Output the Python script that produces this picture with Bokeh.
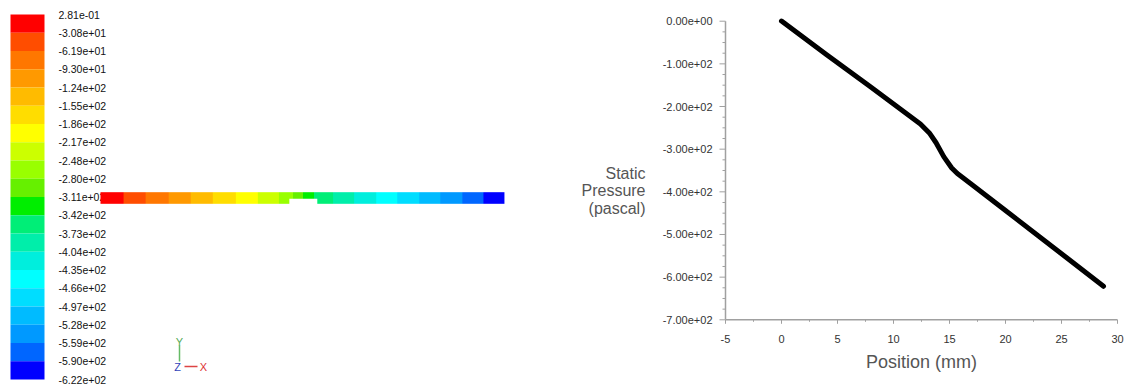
import numpy as np
from bokeh.plotting import figure
from bokeh.models import Range1d, LinearColorMapper
from bokeh.core.properties import value
from bokeh.embed import file_html
from bokeh.resources import INLINE

# Static pressure along the channel centreline
POSITION_MM = [0.0, 4.0, 8.0, 12.4, 13.2, 13.8, 14.5, 15.2, 15.7, 16.9, 20.0, 25.0, 28.75]
PRESSURE_PA = [0.281, -78.0, -155.0, -241.0, -262.0, -285.0, -318.0, -344.0, -357.0,
               -381.0, -444.0, -545.0, -621.56]

# Contour legend range and its labels (top to bottom)
P_MAX = 0.281
P_MIN = -621.56
LEGEND_LABELS = ["2.81e-01", "-3.08e+01", "-6.19e+01", "-9.30e+01", "-1.24e+02",
                 "-1.55e+02", "-1.86e+02", "-2.17e+02", "-2.48e+02", "-2.80e+02",
                 "-3.11e+02", "-3.42e+02", "-3.73e+02", "-4.04e+02", "-4.35e+02",
                 "-4.66e+02", "-4.97e+02", "-5.28e+02", "-5.59e+02", "-5.90e+02",
                 "-6.22e+02"]

# Narrow throat section of the channel (mm)
THROAT_MM = [13.44, 15.43]

# XY plot axes
X_TICKS = [-5, 0, 5, 10, 15, 20, 25, 30]
X_TICK_LABELS = ["-5", "0", "5", "10", "15", "20", "25", "30"]
X_MINOR = [-2.5, 2.5, 7.5, 12.5, 17.5, 22.5, 27.5]
Y_TICKS = [0, -100, -200, -300, -400, -500, -600, -700]
Y_TICK_LABELS = ["0.00e+00", "-1.00e+02", "-2.00e+02", "-3.00e+02",
                 "-4.00e+02", "-5.00e+02", "-6.00e+02", "-7.00e+02"]
Y_MINOR = [v for v in range(-700, 1, 25) if v % 100 != 0]
X_TITLE = "Position (mm)"
Y_TITLE = ["Static", "Pressure", "(pascal)"]

# Banded spectrum, highest pressure first
PALETTE_TOP_DOWN = ["#FF0000", "#FF4D00", "#FF7700", "#FF9900", "#FFBB00",
                    "#FFDD00", "#FFFF00", "#CCFF00", "#99FF00", "#66F000",
                    "#00EE00", "#00EE77", "#00EEAA", "#00EEDD", "#00FFFF",
                    "#00DDFF", "#00BBFF", "#0099FF", "#0066FF", "#0000FF"]

FONT = value("Liberation Sans")
W, H = 1129, 389
AXIS_GREY = "#A0A0A0"

# one canvas; its default ranges are pixel-like layout units (y from the bottom)
p = figure(width=W, height=H, x_range=Range1d(0, W), y_range=Range1d(0, H),
           x_axis_location=None, y_axis_location=None, min_border=0,
           output_backend="svg", toolbar_location=None)
p.grid.visible = False
p.outline_line_color = None

# ---------- scales ----------
# legend bar: pressure on rows 10..375 (from the bottom)
bar_lo, bar_hi = 10, 375
kb = (bar_hi - bar_lo) / (P_MAX - P_MIN)
p.extra_y_ranges["bar"] = Range1d(P_MIN - bar_lo / kb, P_MAX + (H - bar_hi) / kb)

# channel: 0 mm at x=100, 14.05 px per mm
s0, ks = 100.0, 14.05
p.extra_x_ranges["strip"] = Range1d(-s0 / ks, (W - s0) / ks)

# XY plot frame: x 725..1117, y 69.7..368.3 (from the bottom)
fx0, fx1 = 725.0, 1117.0
fy0, fy1 = 69.7, 368.3
kx = (fx1 - fx0) / (X_TICKS[-1] - X_TICKS[0])
ky = (fy1 - fy0) / (Y_TICKS[0] - Y_TICKS[-1])
p.extra_x_ranges["pos"] = Range1d(X_TICKS[0] - fx0 / kx, X_TICKS[-1] + (W - fx1) / kx)
p.extra_y_ranges["pres"] = Range1d(Y_TICKS[-1] - fy0 / ky, Y_TICKS[0] + (H - fy1) / ky)

# ---------- contour legend ----------
levels = np.linspace(P_MAX, P_MIN, len(LEGEND_LABELS))
p.quad(left=10, right=44, top=levels[:-1], bottom=levels[1:],
       fill_color=PALETTE_TOP_DOWN, line_color=None, y_range_name="bar")
p.text(x=58, y=levels, text=LEGEND_LABELS, y_range_name="bar",
       text_font=FONT, text_font_size="10.5px", text_color="#111111",
       text_align="left", text_baseline="middle")

# ---------- channel coloured by centreline pressure ----------
mapper = LinearColorMapper(palette=PALETTE_TOP_DOWN[::-1], low=P_MIN, high=P_MAX)
grid = np.linspace(POSITION_MM[0], POSITION_MM[-1], 460)
strip = np.interp(grid, POSITION_MM, PRESSURE_PA)[np.newaxis, :]
p.image(image=[strip], x=POSITION_MM[0], y=185.7, dw=POSITION_MM[-1] - POSITION_MM[0],
        dh=11.6, color_mapper=mapper, x_range_name="strip")
p.quad(left=THROAT_MM[0], right=THROAT_MM[1], bottom=185.0, top=190.7,
       fill_color="white", line_color=None, x_range_name="strip")

# ---------- axis triad ----------
p.segment(x0=[179, 184], y0=[28, 23], x1=[179, 197], y1=[44, 23],
          line_color=["#66BB66", "#DD4444"], line_width=1.5)
p.text(x=[179, 177, 203], y=[48, 23, 23], text=["Y", "Z", "X"],
       text_color=["#55AA55", "#3344BB", "#DD3333"], text_font=FONT,
       text_font_size="11px", text_align="center", text_baseline="middle")

# ---------- XY plot ----------
xy = dict(x_range_name="pos", y_range_name="pres")
# axis lines
p.segment(x0=[X_TICKS[0], X_TICKS[0]], y0=[Y_TICKS[-1], Y_TICKS[-1]],
          x1=[X_TICKS[-1], X_TICKS[0]], y1=[Y_TICKS[-1], Y_TICKS[0]],
          line_color=AXIS_GREY, line_width=1.5, **xy)
# ticks
p.ray(x=X_TICKS[0], y=Y_TICKS, length=6, length_units="screen", angle=np.pi,
      line_color=AXIS_GREY, line_width=1, **xy)
p.ray(x=X_TICKS[0], y=Y_MINOR, length=3, length_units="screen", angle=np.pi,
      line_color=AXIS_GREY, line_width=1, **xy)
p.ray(x=X_TICKS, y=Y_TICKS[-1], length=4, length_units="screen", angle=-np.pi / 2,
      line_color=AXIS_GREY, line_width=1, **xy)
p.ray(x=X_MINOR, y=Y_TICKS[-1], length=2, length_units="screen", angle=-np.pi / 2,
      line_color=AXIS_GREY, line_width=1, **xy)
# tick labels
p.text(x=X_TICKS[0], y=Y_TICKS, text=Y_TICK_LABELS, x_offset=-13,
       text_align="right", text_baseline="middle", text_font=FONT,
       text_font_size="11px", text_color="#333333", **xy)
p.text(x=X_TICKS, y=Y_TICKS[-1], text=X_TICK_LABELS, y_offset=19,
       text_align="center", text_baseline="middle", text_font=FONT,
       text_font_size="11px", text_color="#333333", **xy)
# axis titles
p.text(x=(X_TICKS[0] + X_TICKS[-1]) / 2, y=Y_TICKS[-1], text=[X_TITLE], y_offset=42,
       text_align="center", text_baseline="middle", text_font=FONT,
       text_font_size="18px", text_color="#555555", **xy)
p.text(x=X_TICKS[0], y=Y_TICKS[4], text=Y_TITLE,
       x_offset=-80, y_offset=[-18, -1, 16.5], text_align="right", text_baseline="middle",
       text_font=FONT, text_font_size="16px", text_color="#555555", **xy)

# pressure profile
p.line(POSITION_MM, PRESSURE_PA, line_width=5, line_color="black",
       line_cap="round", line_join="round", **xy)

open("out.html", "w").write(file_html(p, INLINE))
